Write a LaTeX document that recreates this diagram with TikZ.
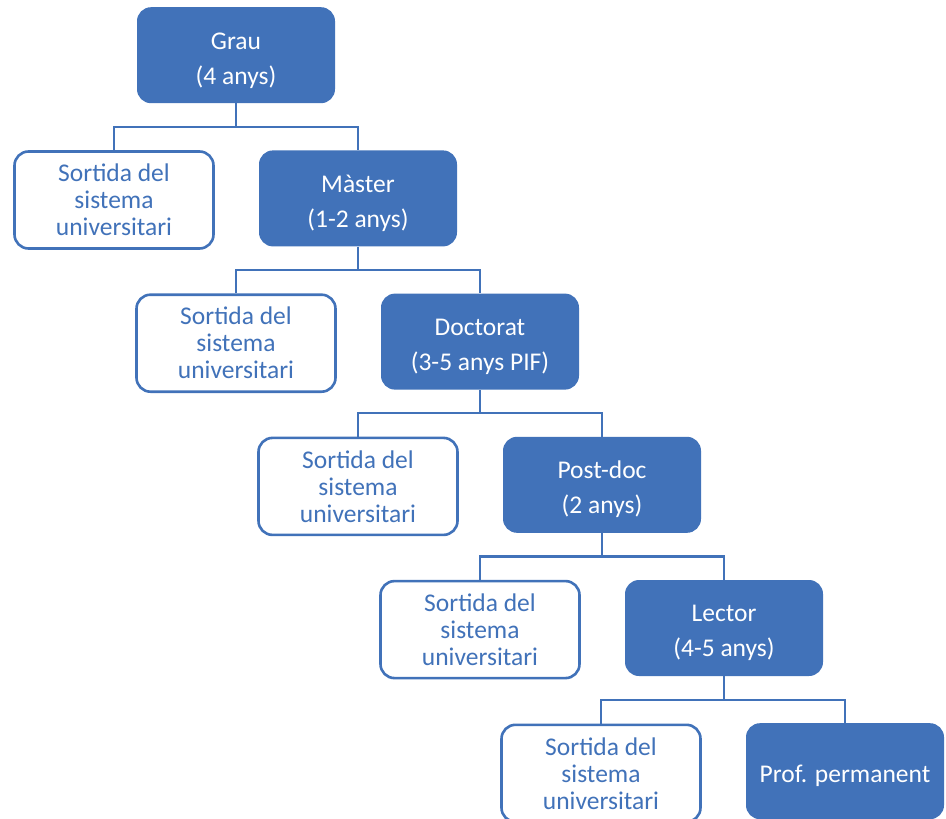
\documentclass[tikz,border=0pt]{standalone}
\usepackage{fontspec}
\setmainfont{Carlito}
\usetikzlibrary{calc}
\definecolor{boxblue}{RGB}{65,114,185}
\newcommand\tstr{\rule{0pt}{27pt}}
\tikzset{
  fbox/.style={draw=none, fill=boxblue, text=white, rounded corners=14pt,
    minimum width=198pt, minimum height=96pt, anchor=north, align=center,
    font=\fontsize{25.5pt}{35pt}\selectfont, inner sep=0pt},
  wbox/.style={draw=boxblue, line width=2.6pt, fill=white, text=boxblue, rounded corners=14pt,
    minimum width=199pt, minimum height=97pt, anchor=north, align=center,
    font=\fontsize{25.5pt}{27pt}\selectfont, inner sep=0pt},
  conn/.style={draw=boxblue, line width=2.2pt}
}
\begin{document}
\begin{tikzpicture}[x=1pt,y=-1pt]
\useasboundingbox (0,0) rectangle (946,819);
\node[fbox] (grau) at (236,7) {\tstr Grau\\(4 anys)};
\node[wbox] (s1) at (114,150.2) {Sortida del\\sistema\\universitari};
\node[fbox] (master) at (358,150.2) {\tstr Màster\\(1-2 anys)};
\node[wbox] (s2) at (236,293.4) {Sortida del\\sistema\\universitari};
\node[fbox] (doc) at (480,293.4) {\tstr Doctorat\\(3-5 anys PIF)};
\node[wbox] (s3) at (358,436.6) {Sortida del\\sistema\\universitari};
\node[fbox] (post) at (602,436.6) {\tstr Post-doc\\(2 anys)};
\node[wbox] (s4) at (480,579.8) {Sortida del\\sistema\\universitari};
\node[fbox] (lector) at (724,579.8) {\tstr Lector\\(4-5 anys)};
\node[wbox] (s5) at (601,723.5) {Sortida del\\sistema\\universitari};
\node[fbox] (prof) at (845,723) {\tstr Prof. permanent};
\foreach \p/\a/\b in {grau/s1/master, master/s2/doc, doc/s3/post, post/s4/lector, lector/s5/prof}{
  \coordinate (j-\p) at ($(\p.south)!.5!(\b.north)$);
  \draw[conn] (\p.south) -- (\p.south |- j-\p) -| (\a.north);
  \draw[conn] (\p.south |- j-\p) -| (\b.north);
}
\end{tikzpicture}
\end{document}
